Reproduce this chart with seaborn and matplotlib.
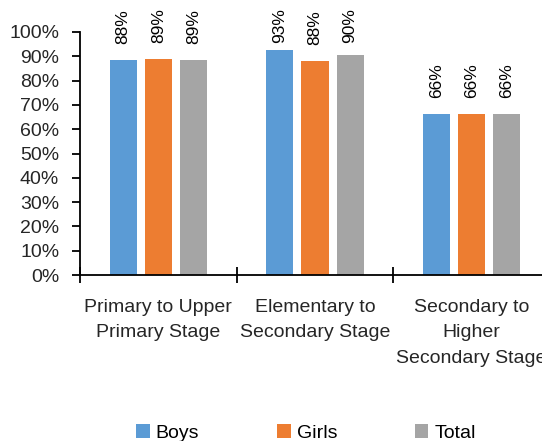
import matplotlib
matplotlib.use("Agg")
import matplotlib.pyplot as plt
import seaborn as sns
import pandas as pd
from matplotlib.ticker import PercentFormatter, FixedLocator

categories = ["Primary to Upper\nPrimary Stage",
              "Elementary to\nSecondary Stage",
              "Secondary to\nHigher\nSecondary Stage"]
series = ["Boys", "Girls", "Total"]
boys = [0.884, 0.927, 0.663]
girls = [0.889, 0.881, 0.664]
total = [0.886, 0.904, 0.664]
colors = ["#5B9BD5", "#ED7D31", "#A5A5A5"]

rows = []
for s, vals in zip(series, [boys, girls, total]):
    for c, v in zip(categories, vals):
        rows.append({"Stage": c, "Group": s, "Value": v})
df = pd.DataFrame(rows)

sns.set_style("white")
plt.rcParams["font.family"] = ["Liberation Sans", "DejaVu Sans"]
plt.rcParams["text.color"] = "#000000"

fig = plt.figure(figsize=(5.42, 4.41), dpi=100)
W, H = 542, 441
ax = fig.add_axes([80 / W, (H - 275) / H, 470 / W, (275 - 32) / H])

sns.barplot(data=df, x="Stage", y="Value", hue="Group", order=categories,
            hue_order=series, palette=colors, width=0.672, gap=0.23,
            saturation=1, ax=ax, edgecolor="none")

# data labels: above the bar, but kept inside the top of the chart area
label_gap = 0.066
label_max = 0.955
for cont in ax.containers:
    for b in cont:
        h = b.get_height()
        ax.text(b.get_x() + b.get_width() / 2, min(h + label_gap, label_max),
                f"{round(h * 100)}%", rotation=90, ha="center", va="bottom",
                fontsize=12.5, clip_on=False)

ax.set_ylim(0, 1)
ax.set_xlim(-0.5, 2.5)
ax.yaxis.set_major_locator(FixedLocator([i / 10 for i in range(11)]))
ax.yaxis.set_major_formatter(PercentFormatter(1.0, decimals=0))
ax.set_xlabel("")
ax.set_ylabel("")

for side in ["top", "right"]:
    ax.spines[side].set_visible(False)
for side in ["left", "bottom"]:
    ax.spines[side].set_color("black")
    ax.spines[side].set_linewidth(1.3)

ax.tick_params(axis="y", which="major", direction="out", length=6, width=1.3,
               color="black", left=True, labelsize=14, pad=9)
ax.tick_params(axis="x", which="major", length=0, labelsize=14, pad=17)
ax.set_xticks([-0.5, 0.5, 1.5, 2.5], minor=True)
ax.tick_params(axis="x", which="minor", direction="inout", length=11, width=1.3,
               color="black", bottom=True)
for lbl in ax.get_xticklabels():
    lbl.set_multialignment("center")
    lbl.set_linespacing(1.68)

handles, labs = ax.get_legend_handles_labels()
ax.get_legend().remove()
fig.legend(handles, labs, loc="center", bbox_to_anchor=(306 / W, (H - 433) / H),
           ncol=3, frameon=False, fontsize=14, handlelength=0.7, handleheight=0.7,
           handletextpad=0.3, columnspacing=4.0)

fig.savefig("out.png", dpi=100)
